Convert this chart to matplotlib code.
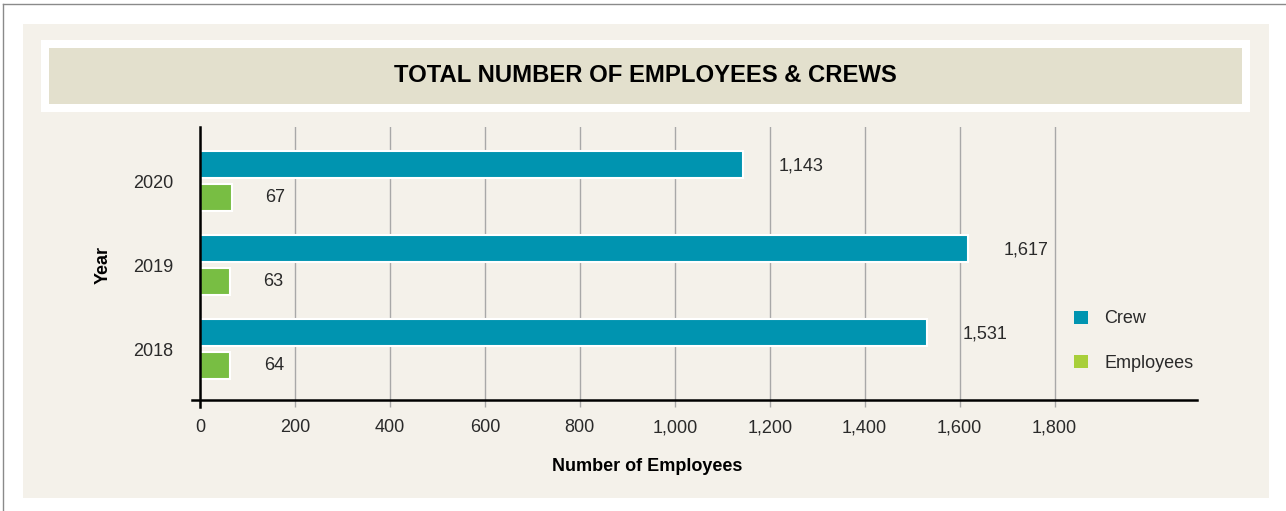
import matplotlib
matplotlib.use('Agg')
import matplotlib.pyplot as plt
from matplotlib.patches import Rectangle, Patch
from matplotlib.lines import Line2D

plt.rcParams['font.family'] = ['Liberation Sans', 'DejaVu Sans']

# 데이터
years = ['2018', '2019', '2020']
crew = [1531, 1617, 1143]
employees = [64, 63, 67]
x_ticks = [0, 200, 400, 600, 800, 1000, 1200, 1400, 1600, 1800]

crew_color = '#0094b0'
emp_color = '#78be43'
emp_legend_color = '#a8cf3a'
panel_color = '#f4f1ea'
title_color = '#e3e0cd'
text_color = '#2a2a2a'

W, H = 1286, 511
fig = plt.figure(figsize=(W / 100, H / 100), dpi=100)
fig.patch.set_facecolor('white')

def px_rect(x0, y0, x1, y1, color):
    # 픽셀 좌표 -> figure 좌표
    fig.add_artist(Rectangle((x0 / W, 1 - y1 / H), (x1 - x0) / W, (y1 - y0) / H,
                             transform=fig.transFigure, facecolor=color,
                             edgecolor='none', zorder=0))

px_rect(23, 24, 1269, 498, panel_color)
px_rect(41, 40, 1250, 112, 'white')
px_rect(49, 48, 1242, 104, title_color)

# 바깥 테두리
fig.add_artist(Line2D([3 / W, 3 / W], [0, 1 - 4 / H], transform=fig.transFigure,
                      color='#8a8a8a', lw=1))
fig.add_artist(Line2D([3 / W, 1], [1 - 4 / H, 1 - 4 / H], transform=fig.transFigure,
                      color='#8a8a8a', lw=1))

fig.text(645.5 / W, 1 - 76 / H, 'TOTAL NUMBER OF EMPLOYEES & CREWS',
         ha='center', va='center', fontsize=17.2, fontweight='bold', color='black')

ax = fig.add_axes([200 / W, 1 - 400 / H, 997 / W, 273 / H])
ax.set_facecolor('none')

pos = list(range(len(years)))
off = 0.2
h = 0.32
ax.barh([p + off for p in pos], crew, height=h, color=crew_color,
        edgecolor='white', linewidth=1.5, zorder=3)
ax.barh([p - off for p in pos], employees, height=h, color=emp_color,
        edgecolor='white', linewidth=1.5, zorder=3)

for p, v in zip(pos, crew):
    ax.annotate(f'{v:,}', (v, p + off - 0.02), xytext=(26, 0), textcoords='offset points',
                ha='left', va='center', fontsize=13, color=text_color)
for p, v in zip(pos, employees):
    ax.annotate(f'{v:,}', (v, p - off), xytext=(24, 0), textcoords='offset points',
                ha='left', va='center', fontsize=13, color=text_color)

ax.set_xlim(0, 2100)
ax.set_ylim(-0.607, 2.643)
ax.set_xticks(x_ticks)
ax.set_xticklabels([f'{t:,}' for t in x_ticks], fontsize=13, color=text_color)
ax.set_yticks(pos)
ax.set_yticklabels(years, fontsize=13, color=text_color)

ax.grid(axis='x', color='#a8a8a8', lw=1, zorder=1)
ax.tick_params(axis='x', length=5, width=1, color='#a8a8a8', pad=9)
ax.tick_params(axis='y', length=0, pad=19)

for s in ['top', 'right']:
    ax.spines[s].set_visible(False)
for s in ['left', 'bottom']:
    ax.spines[s].set_color('black')
    ax.spines[s].set_linewidth(1.8)
    ax.spines[s].set_zorder(4)
ax.spines['bottom'].set_bounds(-17, 2100)
ax.spines['left'].set_bounds(-0.69, 2.643)

ax.set_xlabel('Number of Employees', fontsize=13, fontweight='bold', color='black')
ax.xaxis.set_label_coords(0.449, -0.242)
ax.xaxis.label.set_va('center')
ax.set_ylabel('Year', fontsize=13, fontweight='bold', color='black')
ax.yaxis.set_label_coords(-0.0973, 0.4945)
ax.yaxis.label.set_va('center')

handles = [Patch(facecolor=crew_color, label='Crew'),
           Patch(facecolor=emp_legend_color, label='Employees')]
fig.legend(handles=handles, loc='center left', bbox_to_anchor=(1058 / W, 1 - 341 / H),
           frameon=False, fontsize=13, handlelength=0.75, handleheight=0.75,
           handletextpad=0.9, labelspacing=1.5, labelcolor=text_color)

fig.savefig('out.png', dpi=100, facecolor='white')
